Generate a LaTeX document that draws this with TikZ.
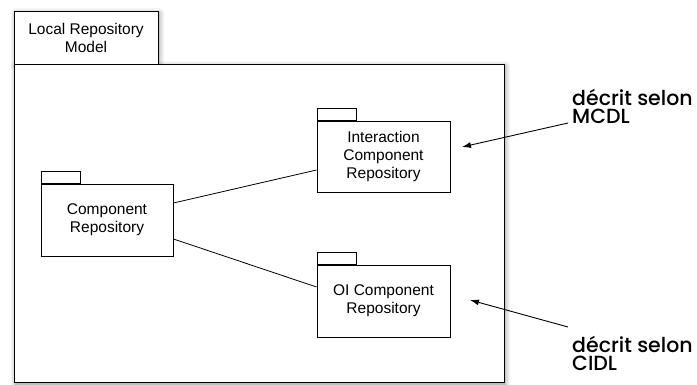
\documentclass[tikz,border=0pt]{standalone}
\usepackage{fontspec}
\setmainfont{Liberation Sans}
\newfontfamily\futfont{Poppins}[UprightFont={* Medium}]
\usetikzlibrary{arrows.meta,shadows.blur}
\begin{document}
\begin{tikzpicture}[x=1pt,y=-1pt,
  pkg/.style={draw=black, line width=0.9pt, fill=white, inner sep=0pt, align=center, font=\fontsize{15.5}{18}\selectfont},
  tabbox/.style={draw=black, line width=0.9pt, fill=white, inner sep=0pt},
  conn/.style={draw=black, line width=0.8pt},
  note/.style={inner sep=0pt, anchor=south west, align=left, font=\futfont\fontsize{20.5}{18.5}\selectfont},
  arr/.style={draw=black, line width=0.9pt, -{Latex[length=9pt,width=6pt]}},
  shad/.style={blur shadow={shadow xshift=1.5pt, shadow yshift=-2pt, shadow blur radius=5pt, shadow opacity=45}}
]
\useasboundingbox (0,0) rectangle (697,385);
% shadows of the outer package
\path[shad, fill=white] (14,11) rectangle (158,64);
\path[shad, fill=white] (14,64) rectangle (504,382);
% outer package
\node[pkg, minimum width=144pt, minimum height=53pt] (outertab) at (86,37.5) {Local Repository\\Model};
\node[pkg, minimum width=490pt, minimum height=318pt] (outer) at (259,223) {};
% inner packages
\node[pkg, minimum width=132pt, minimum height=72pt] (comp) at (107,220) {Component\\Repository};
\node[tabbox, minimum width=39pt, minimum height=12pt, anchor=south west] (comptab) at (comp.north west) {};
\node[pkg, minimum width=133pt, minimum height=71pt] (inter) at (383.5,156.5) {Interaction\\Component\\Repository};
\node[tabbox, minimum width=39pt, minimum height=12pt, anchor=south west] (intertab) at (inter.north west) {};
\node[pkg, minimum width=133pt, minimum height=72pt] (oi) at (383.5,301) {OI Component\\Repository};
\node[tabbox, minimum width=39pt, minimum height=12pt, anchor=south west] (oitab) at (oi.north west) {};
% connectors
\draw[conn] ([yshift=17pt]comp.east) -- ([yshift=-13.5pt]inter.west);
\draw[conn] ([yshift=-19pt]comp.east) -- ([yshift=14pt]oi.west);
% notes
\node[note] (n1) at (572,124) {décrit selon\\MCDL};
\coordinate (t1) at (462,147);
\draw[arr] ([xshift=-4pt,yshift=1pt]n1.south west) -- (t1);
\node[note] (n2) at (572,371) {décrit selon\\CIDL};
\coordinate (t2) at (470,300);
\draw[arr] ([xshift=-4pt,yshift=44pt]n2.south west) -- (t2);
\end{tikzpicture}
\end{document}
